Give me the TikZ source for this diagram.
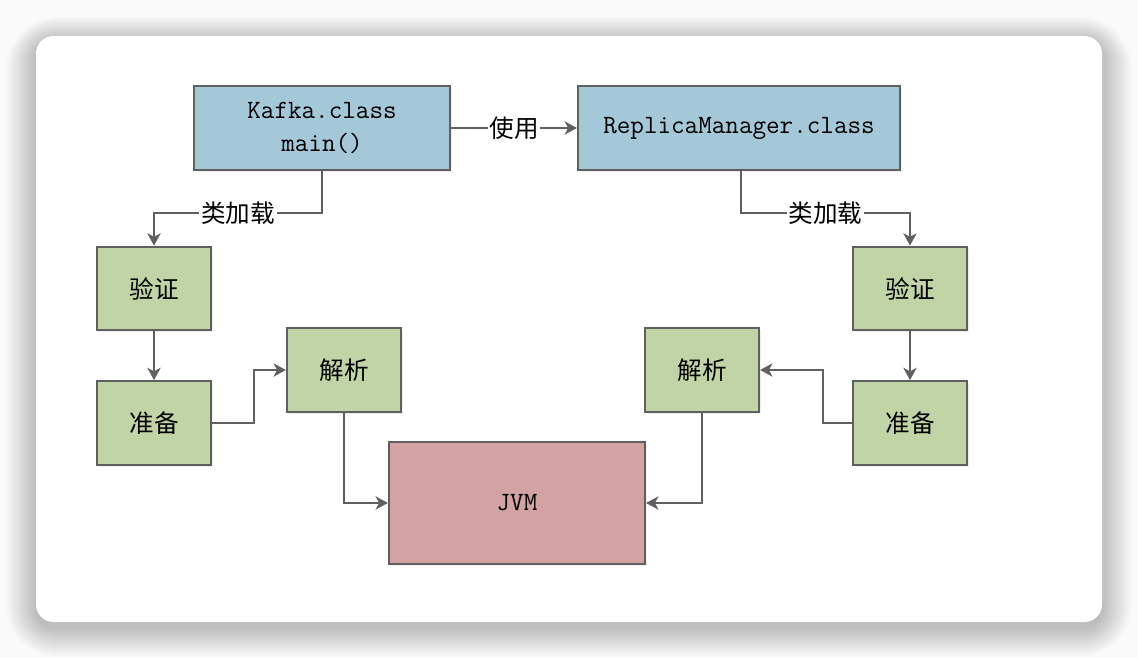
\documentclass[tikz,border=0pt]{standalone}
\usepackage{fontspec}
\newfontfamily\cjk{Noto Sans CJK SC}
\usepackage{tikz}
\usetikzlibrary{arrows.meta}
\usetikzlibrary{shadows}

\definecolor{blueBox}{HTML}{A5C8D8}
\definecolor{greenBox}{HTML}{C1D4A5}
\definecolor{redBox}{HTML}{D3A2A2}
\definecolor{lineGray}{HTML}{606060}

\tikzset{
        box/.style={draw=lineGray, line width=1.25pt, inner sep=0pt, align=center,
                drop shadow={opacity=0.12, shadow xshift=1.2pt, shadow yshift=-1.2pt}},
        classbox/.style={box, fill=blueBox, minimum height=1.68cm,
                font=\ttfamily\fontsize{15}{19}\selectfont},
        stepbox/.style={box, fill=greenBox, minimum width=2.28cm, minimum height=1.67cm,
                font=\cjk\fontsize{14}{16}\selectfont},
        arr/.style={draw=lineGray, line width=1.25pt, -{Stealth[length=7pt,width=7.5pt,inset=2pt]}},
        lbl/.style={fill=white, inner sep=1pt, font=\cjk\fontsize{14}{16}\selectfont}
}

\begin{document}
\begin{tikzpicture}[x=0.02cm, y=-0.02cm]
        \useasboundingbox (0,0) rectangle (1138,658);
        % card with shadow
        \fill[black!2] (0,0) rectangle (1138,658);
        \foreach \i in {1,...,20}
                \fill[black, opacity=0.011, rounded corners=10+\i]
                        (36-1.5*\i,36-1.2*\i+5) rectangle (1102+1.5*\i,622+1.5*\i+5);
        \fill[white, rounded corners=10] (36,36) rectangle (1102,622);

        % class boxes
        \node[classbox, minimum width=5.12cm] (kafka) at (322,128) {Kafka.class\\main()};
        \node[classbox, minimum width=6.44cm] (replica) at (739,128) {ReplicaManager.class};

        % left side
        \node[stepbox] (verifyL) at (154,288.5) {验证};
        \node[stepbox] (prepL) at (154,423) {准备};
        \node[stepbox] (resolveL) at (344,370) {解析};

        % right side
        \node[stepbox] (verifyR) at (910,288.5) {验证};
        \node[stepbox] (prepR) at (910,423) {准备};
        \node[stepbox] (resolveR) at (702,370) {解析};

        \node[box, fill=redBox, minimum width=5.12cm, minimum height=2.44cm,
                font=\ttfamily\fontsize{15}{18}\selectfont] (jvm) at (517,503) {JVM};

        \coordinate (loadL) at (154,213);
        \coordinate (loadR) at (910,213);
        \coordinate (bendL) at (254,370);
        \coordinate (bendR) at (823,370);

        \draw[arr] (kafka) -- node[lbl] {使用} (replica);
        \draw[arr] (kafka.south) |- node[lbl, pos=0.75] {类加载} (loadL) -- (verifyL);
        \draw[arr] (replica.south -| 741,0) |- node[lbl, pos=0.75] {类加载} (loadR) -- (verifyR);
        \draw[arr] (verifyL) -- (prepL);
        \draw[arr] (verifyR) -- (prepR);
        \draw[arr] (prepL.east) -| (bendL) -- (resolveL.west);
        \draw[arr] (prepR.west) -| (bendR) -- (resolveR.east);
        \draw[arr] (resolveL.south) |- (jvm.west);
        \draw[arr] (resolveR.south) |- (jvm.east);
\end{tikzpicture}
\end{document}
